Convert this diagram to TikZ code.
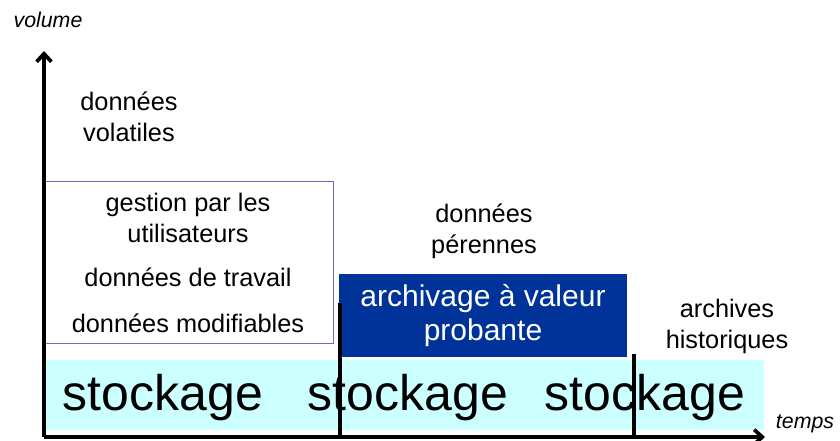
\documentclass[tikz,border=0pt]{standalone}
\usepackage{fontspec}
\setmainfont{Liberation Sans}
\usetikzlibrary{arrows.meta}
\definecolor{bandcyan}{RGB}{204,255,255}
\definecolor{archblue}{RGB}{0,51,153}
\definecolor{boxline}{RGB}{110,110,190}
\begin{document}
\begin{tikzpicture}[x=0.75pt,y=-0.75pt,
every node/.style={
rectangle,
align=center,
anchor=center,
inner sep=0pt,
},
box/.style={
draw,
},
lbl/.style={font=\fontsize{19}{23.25}\selectfont},
axis/.style={line width=2.8pt,-{Straight Barb[length=6pt,width=11pt]}},
tick/.style={line width=2.6pt},
]
\useasboundingbox (0,0) rectangle (840,441);

%stockage band
\node[fill=bandcyan,minimum width=539pt,minimum height=52pt,anchor=north west](band)at(45,360){};
\node[font=\fontsize{37.5}{40}\selectfont](st1)at(163,398){stockage};
\node[font=\fontsize{37.5}{40}\selectfont](st2)at(408,398){stockage};
\node[font=\fontsize{37.5}{40}\selectfont](st3)at(645,398){stockage};

%donnees volatiles
\node[lbl](volat)at(129,117){données\\volatiles};
\node[box,draw=boxline,minimum width=216pt,minimum height=121.5pt,anchor=north west](user)at(45,181){};
\node[lbl](gest)at(188,218){gestion par les\\utilisateurs};
\node[lbl](trav)at(188,277){données de travail};
\node[lbl](modif)at(188,323){données modifiables};

%donnees perennes
\node[lbl](peren)at(484,231){données\\pérennes};
\node[fill=archblue,minimum width=216pt,minimum height=62.25pt,anchor=north west](arch)at(339,274){};
\node[font=\fontsize{22.5}{25.5}\selectfont,text=white](archtxt)at(483,316){archivage à valeur\\probante};

%archives historiques
\node[lbl](hist)at(727,326){archives\\historiques};

%axes
\coordinate(o)at(44,437);
\coordinate(ytop)at(44,51);
\coordinate(xend)at(765,437);
\draw[axis](o)--(ytop);
\draw[axis](o)--(xend);
\node[font=\itshape\fontsize{16}{18}\selectfont](vol)at(48,20){volume};
\node[font=\itshape\fontsize{16}{18}\selectfont](tps)at(805,424){temps};

%separations
\coordinate(s1)at(340,303);
\coordinate(s1b)at(340,437);
\coordinate(s2)at(634,354);
\coordinate(s2b)at(634,437);
\draw[tick](s1)--(s1b);
\draw[tick](s2)--(s2b);
\end{tikzpicture}
\end{document}
